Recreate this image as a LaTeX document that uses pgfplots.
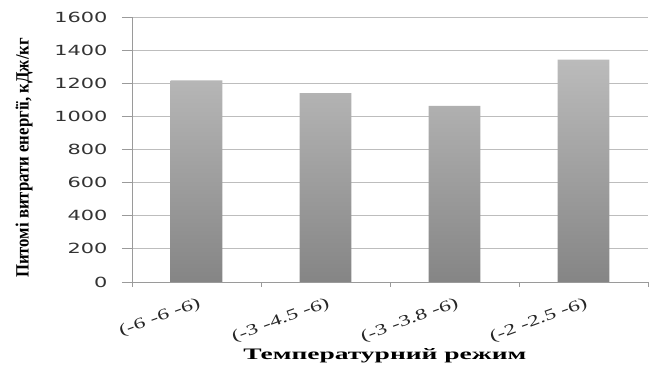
\documentclass[border=0pt]{standalone}
\usepackage{pgfplots}
\pgfplotsset{compat=1.18}
\usepackage{fontspec}
\setmainfont{Liberation Serif}
\newfontfamily\dejavu{DejaVu Sans}
\definecolor{gridc}{HTML}{BDBDBD}
\definecolor{axc}{HTML}{9A9A9A}
\definecolor{bartop}{HTML}{BBBBBB}
\definecolor{barbot}{HTML}{858585}
\newcommand{\xl}[1]{\scalebox{1.5}[1]{#1}}
\begin{document}
\begin{tikzpicture}[x=1pt,y=1pt]
\useasboundingbox (-132,-87) rectangle (517,282);
\begin{axis}[
  scale only axis,
  width=516pt, height=265pt,
  xmin=-0.5, xmax=3.5,
  ymin=0, ymax=1600,
  ytick={0,200,...,1600},
  xtick={0,1,2,3},
  xticklabels={\xl{(-6 -6 -6)},\xl{(-3 -4.5 -6)},\xl{(-3 -3.8 -6)},\xl{(-2 -2.5 -6)}},
  minor xtick={-0.5,0.5,1.5,2.5,3.5},
  minor tick length=5pt,
  major tick length=10pt,
  tick align=outside,
  major x tick style={draw=none},
  every tick/.style={axc, line width=0.8pt},
  ymajorgrids,
  grid style={gridc, line width=0.9pt},
  axis x line*=bottom,
  axis y line*=left,
  axis line style={axc, line width=0.8pt},
  /pgf/number format/1000 sep={},
  /pgf/number format/assume math mode=true,
  yticklabel style={font=\dejavu\fontsize{14}{16}\selectfont, text=black!80, anchor=east, xshift=-11pt},
  yticklabel={\scalebox{1.49}[1]{\pgfmathprintnumber{\tick}}},
  xticklabel style={font=\fontsize{15.5}{18}\selectfont, rotate=20, anchor=north east, yshift=-1pt, xshift=3pt, text=black!85},
  xlabel={\resizebox{283pt}{11pt}{\bfseries Температурний режим}},
  xlabel style={at={(axis description cs:0.49,-0.252)}, anchor=north, inner sep=0pt},
  ylabel={\resizebox{240pt}{13pt}{\bfseries Питомі витрати енергії, кДж/кг}},
  ylabel style={at={(axis description cs:-0.209,0.468)}, anchor=center, rotate=0, inner sep=0pt},
  clip=false,
]
\addplot[ybar, bar width=0.4, draw=none, top color=bartop, bottom color=barbot] coordinates {(0,1217) (1,1140) (2,1063) (3,1342)};
\end{axis}
\end{tikzpicture}
\end{document}
